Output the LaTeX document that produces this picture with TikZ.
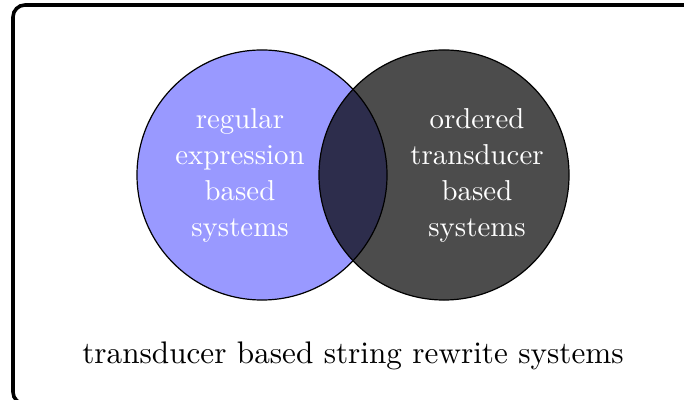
\documentclass[tikz,border=0pt]{standalone}
\begin{document}
\begin{tikzpicture}[x=0.33333pt,y=-0.33333pt,
  setlabel/.style={text=white,align=center,inner sep=0pt,font=\fontsize{9.6}{12}\selectfont},
  frame/.style={line width=1.2pt,rounded corners=4pt}]
\useasboundingbox (0,0) rectangle (684,400);
\clip (0,0) rectangle (684,400);
\draw[frame] (13,5) rectangle (700,404);
% the two sets
\coordinate (lc) at (262,175);
\coordinate (rc) at (444,175);
\fill[blue!40] (lc) circle (41.67pt);
\draw (lc) circle (41.67pt);
\fill[black,opacity=0.7] (rc) circle (41.67pt);
\draw (rc) circle (41.67pt);
\node[setlabel] (lt) at (240,175) {regular\\expression\\based\\systems};
\node[setlabel] (rt) at (477,175) {ordered\\transducer\\based\\systems};
\node[inner sep=0pt,font=\fontsize{10.4}{12.5}\selectfont] (all) at (353,356) {transducer based string rewrite systems};
\end{tikzpicture}
\end{document}
